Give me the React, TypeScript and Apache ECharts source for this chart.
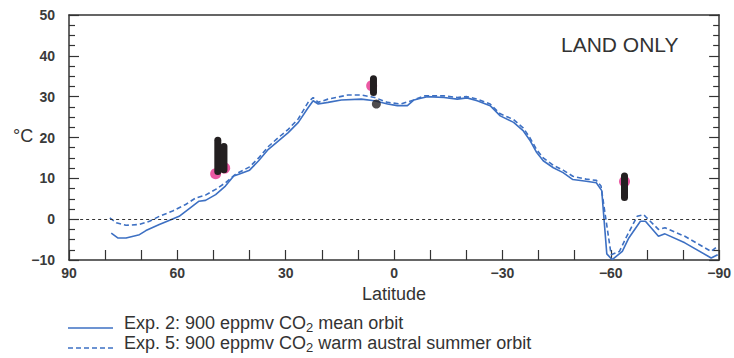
import React, { useEffect, useRef } from "react";
import * as echarts from "echarts";

// Exp. 2: 900 eppmv CO2 mean orbit (solid)
const exp2Lat = [78.3, 76.5, 74.2, 70.5, 68.7, 65, 62.3, 59.5, 55.8, 54, 52.2, 49.4, 46.7, 44.4, 43, 40, 37.5, 34.8, 32, 29.3, 26.5, 23.8, 22.4, 21, 18.3, 14.6, 9.1, 5.4, 1.8, -0.9, -3.7, -5.5, -7.4, -9.2, -13.8, -17.5, -20.2, -23, -26.6, -29.4, -33.1, -35.8, -37.7, -39.5, -41.3, -44.1, -46.8, -49.5, -53.2, -56, -57.5, -58.9, -60.4, -63.2, -65, -68.2, -69.6, -73.2, -75, -80.5, -87.8, -89.6];
const exp2Temp = [-3.4, -4.6, -4.6, -3.8, -2.8, -1.3, -0.3, 0.7, 3.2, 4.4, 4.6, 6, 8.1, 10.6, 11, 12, 14.3, 17.1, 19.2, 21.2, 23.7, 27.3, 29, 28.2, 28.6, 29.2, 29.4, 29, 28.2, 27.8, 27.8, 29.2, 29.6, 30, 29.8, 29.4, 29.7, 29, 27.8, 25.3, 23.7, 21.6, 19.2, 16.3, 14.3, 12.6, 11.4, 9.7, 9.3, 8.9, 7.0, -8.5, -9.9, -7.9, -4.6, -0.5, -0.5, -4.2, -3.6, -5.8, -9.5, -8.7];

// Exp. 5: 900 eppmv CO2 warm austral summer orbit (dashed)
const exp5Lat = [78.7, 76.9, 74.2, 70.5, 67.7, 65, 61.3, 57.7, 54.9, 52.2, 49.4, 46.7, 43.9, 40, 37.5, 34.8, 32, 29.3, 26.5, 23.8, 22.4, 21, 18.3, 12.8, 9.1, 5.4, 1.8, -1.8, -5.5, -8.3, -13.8, -17.5, -20.2, -23, -26.6, -29.4, -33.1, -35.8, -37.7, -39.5, -41.3, -44.1, -46.8, -49.5, -53.2, -56, -57.3, -60.1, -62.4, -64.2, -67.3, -69.1, -70, -73.2, -75, -80.5, -87.8, -89.6];
const exp5Temp = [0.3, -0.9, -1.5, -1.3, -0.5, 0.7, 2, 3.6, 5.2, 5.9, 7.3, 8.9, 11, 12.8, 15, 17.8, 20, 22, 24.6, 28.6, 29.8, 28.6, 29.4, 30.4, 30.4, 29.8, 28.6, 28.2, 29.2, 30.2, 30.2, 29.8, 30, 29.4, 28.2, 25.8, 24.4, 22.3, 19.8, 17, 15, 13.2, 12, 10.5, 9.8, 9.5, 8.1, -8.7, -7.9, -4.6, 0.7, 1.1, 0.3, -2.5, -2.1, -4.2, -7.9, -6.6];

// Proxy ranges (black bars): latitude, low, high
const proxyLat = [48.8, 47.1, 5.7, -63.8];
const proxyLow = [11.7, 12.1, 31.0, 5.3];
const proxyHigh = [19.3, 17.8, 34.4, 10.6];

// Proxy estimates (pink circles)
const pinkLat = [49.4, 46.9, 6.2, -63.8];
const pinkTemp = [11.1, 12.5, 32.7, 9.2];

// Extra proxy point (black dot)
const dotLat = [4.9];
const dotTemp = [28.2];

const xTickLabels: Record<number, string> = { 90: "90", 60: "60", 30: "30", 0: "0", [-30]: "−30", [-60]: "−60", [-90]: "−90" };

const BLUE = "#3d70c3";
const AXIS = "#333333";
const FONT = "Liberation Sans, Arial, sans-serif";

export default function App() {
  const ref = useRef<HTMLDivElement>(null);
  useEffect(() => {
    if (!ref.current) return;
    const chart = echarts.init(ref.current, undefined, { renderer: "svg" });
    const zip = (a: number[], b: number[]) => a.map((v, i) => [v, b[i]]);
    const legendRich = {
      a: { fontSize: 18, lineHeight: 22, fill: "#333", fontFamily: FONT },
      s: { fontSize: 13, lineHeight: 22, verticalAlign: "bottom", fill: "#333", fontFamily: FONT },
    };
    chart.setOption({
      animation: false,
      backgroundColor: "#ffffff",
      grid: { left: 69, right: 10, top: 15, bottom: 98 },
      xAxis: [
        {
          type: "value",
          min: -90,
          max: 90,
          interval: 10,
          inverse: true,
          axisLine: { show: true, onZero: false, lineStyle: { color: AXIS, width: 1.5 } },
          axisTick: { show: true, inside: true, length: 10, lineStyle: { color: AXIS, width: 1.2 } },
          axisLabel: {
            margin: 6,
            fontSize: 14,
            fontWeight: "bold",
            color: "#3a3a3a",
            fontFamily: FONT,
            formatter: (v: number) => xTickLabels[v] ?? "",
          },
          splitLine: { show: false },
          name: "Latitude",
          nameLocation: "middle",
          nameGap: 17,
          nameTextStyle: { fontSize: 18, color: "#333", fontFamily: FONT },
        },
        {
          type: "value",
          position: "top",
          min: -90,
          max: 90,
          inverse: true,
          axisLine: { show: true, onZero: false, lineStyle: { color: AXIS, width: 1.5 } },
          axisTick: { show: false },
          axisLabel: { show: false },
          splitLine: { show: false },
        },
      ],
      yAxis: [
        {
          type: "value",
          min: -10,
          max: 50,
          interval: 10,
          axisLine: { show: true, onZero: false, lineStyle: { color: AXIS, width: 1.5 } },
          axisTick: { show: true, inside: true, length: 10, lineStyle: { color: AXIS, width: 1.2 } },
          minorTick: { show: true, splitNumber: 4, length: 6, lineStyle: { color: AXIS, width: 1.2 } },
          axisLabel: {
            margin: 14,
            fontSize: 14,
            fontWeight: "bold",
            color: "#3a3a3a",
            fontFamily: FONT,
            formatter: (v: number) => (v < 0 ? "−" + Math.abs(v) : String(v)),
          },
          splitLine: { show: false },
        },
        {
          type: "value",
          position: "right",
          min: -10,
          max: 50,
          interval: 10,
          axisLine: { show: true, onZero: false, lineStyle: { color: AXIS, width: 1.5 } },
          axisTick: { show: true, inside: true, length: 10, lineStyle: { color: AXIS, width: 1.2 } },
          minorTick: { show: true, splitNumber: 4, length: 6, lineStyle: { color: AXIS, width: 1.2 } },
          axisLabel: { show: false },
          splitLine: { show: false },
        },
      ],
      series: [
        {
          name: "Exp. 2",
          type: "line",
          data: zip(exp2Lat, exp2Temp),
          showSymbol: false,
          symbol: "none",
          lineStyle: { color: BLUE, width: 1.6 },
          z: 3,
          markLine: {
            silent: true,
            symbol: "none",
            label: { show: false },
            lineStyle: { color: "#333", width: 1, type: [3, 3] },
            data: [{ yAxis: 0 }],
          },
        },
        {
          name: "Exp. 5",
          type: "line",
          data: zip(exp5Lat, exp5Temp),
          showSymbol: false,
          symbol: "none",
          lineStyle: { color: BLUE, width: 1.6, type: [5, 3] },
          z: 3,
        },
        {
          type: "scatter",
          data: zip(pinkLat, pinkTemp),
          symbol: "circle",
          symbolSize: 11,
          itemStyle: { color: "#e62f8c" },
          z: 4,
        },
        {
          type: "custom",
          data: proxyLat.map((v, i) => [v, proxyLow[i], proxyHigh[i]]),
          encode: { x: 0, y: [1, 2] },
          z: 5,
          renderItem: (params: any, api: any) => {
            const p1 = api.coord([api.value(0), api.value(1)]);
            const p2 = api.coord([api.value(0), api.value(2)]);
            return {
              type: "line",
              shape: { x1: p1[0], y1: p1[1], x2: p2[0], y2: p2[1] },
              style: { stroke: "#231f20", lineWidth: 7, lineCap: "round" },
            };
          },
        },
        {
          type: "scatter",
          data: zip(dotLat, dotTemp),
          symbol: "circle",
          symbolSize: 9,
          itemStyle: { color: "#231f20" },
          z: 5,
        },
      ],
      graphic: [
        {
          type: "text",
          left: 13,
          top: 127,
          style: { text: "°C", fontSize: 18, fill: "#333", fontFamily: FONT },
        },
        {
          type: "text",
          left: 561,
          top: 34,
          style: { text: "LAND ONLY", fontSize: 21, fill: "#333", fontFamily: FONT },
        },
        {
          type: "line",
          shape: { x1: 68, y1: 328, x2: 113, y2: 328 },
          style: { stroke: BLUE, lineWidth: 1.6 },
        },
        {
          type: "line",
          shape: { x1: 68, y1: 348, x2: 113, y2: 348 },
          style: { stroke: BLUE, lineWidth: 1.6, lineDash: [5, 3] },
        },
        {
          type: "text",
          left: 124,
          top: 314,
          style: { text: "{a|Exp. 2: 900 eppmv CO}{s|2}{a| mean orbit}", rich: legendRich },
        },
        {
          type: "text",
          left: 124,
          top: 334,
          style: { text: "{a|Exp. 5: 900 eppmv CO}{s|2}{a| warm austral summer orbit}", rich: legendRich },
        },
      ],
    });
    return () => chart.dispose();
  }, []);
  return <div ref={ref} style={{ width: 734, height: 358, position: "absolute", left: 0, top: 0 }} />;
}
